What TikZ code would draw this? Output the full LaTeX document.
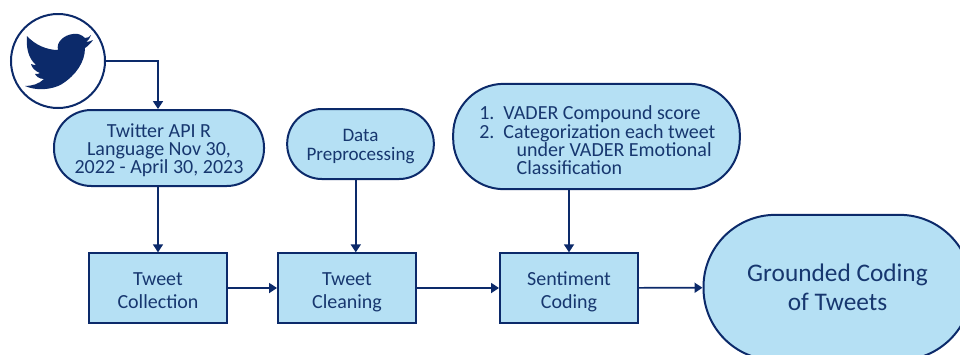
\documentclass[tikz,border=0pt]{standalone}
\usepackage{fontspec}
\setmainfont{Carlito}
\usetikzlibrary{arrows.meta}
\definecolor{navy}{HTML}{0C2A6A}
\definecolor{fillblue}{HTML}{B5E0F4}
\definecolor{txtblue}{HTML}{17376F}
\newcommand\boxtop{\rule{0pt}{16.7pt}}
\newcommand\boxbot{\rule[-3.3pt]{0pt}{1pt}}
\tikzset{
  x=0.75pt,y=-0.75pt,
  base/.style={draw=navy,line width=1.5pt,fill=fillblue,text=txtblue,align=center,inner sep=0pt},
  stadium/.style={base,rounded corners=#1},
  stepbox/.style={base,minimum width=103.5pt,minimum height=52pt,font=\fontsize{15}{17.5}\selectfont},
  conn/.style={draw=navy,line width=1.3pt,-{Triangle[length=6pt,width=7.5pt]}},
}
\begin{document}
\begin{tikzpicture}
\useasboundingbox (0,0) rectangle (960,354);
\clip (0,0) rectangle (960,354);
\node[base,fill=white,circle,minimum size=70.5pt] (logo) at (58,61) {};
\fill[navy] (73,34) .. controls (78,33) and (82,35) .. (85,38)
  .. controls (87,38) and (90,37) .. (91,35)
  .. controls (90,38) and (88,41) .. (86,42)
  .. controls (88,42) and (91,41) .. (93,40)
  .. controls (91,43) and (88,46) .. (85,48)
  .. controls (85,62) and (76,75) .. (62,84)
  .. controls (52,90) and (36,91) .. (25,86)
  .. controls (32,86) and (39,84) .. (44,79)
  .. controls (39,79) and (36,76) .. (35,74)
  .. controls (37,74) and (39,74) .. (40,73)
  .. controls (35,71) and (32,68) .. (31,64)
  .. controls (33,65) and (35,65) .. (36,65)
  .. controls (28,58) and (26,47) .. (27,36)
  .. controls (35,45) and (47,50) .. (58,50)
  .. controls (56,42) and (64,35) .. (73,34) -- cycle;
\node[stadium=28pt,minimum width=157.5pt,minimum height=57pt,font=\fontsize{15}{13.5}\selectfont] (api) at (159,148) {\rule{0pt}{13pt}Twitter API R\\Language Nov 30,\\2022 - April 30, 2023};
\node[stadium=26pt,minimum width=110pt,minimum height=52.5pt,font=\fontsize{14.3}{14.25}\selectfont] (prep) at (360.5,144) {\rule{0pt}{13.6pt}Data\\Preprocessing};
\node[stadium=38pt,minimum width=215pt,minimum height=79pt] (vader) at (596.5,136.5) {};
\node[text=txtblue,anchor=west,align=left,inner sep=0pt,font=\fontsize{15}{13.75}\selectfont] (vtext) at (479,140.3) {1.\ \ VADER Compound score\\2.\ \ Categorization each tweet\\\hspace{28pt}under VADER Emotional\\\hspace{28pt}Classification};
\node[stepbox] (collect) at (158,288) {\boxtop Tweet\\Collection\boxbot};
\node[stepbox] (clean) at (347,288) {\boxtop Tweet\\Cleaning\boxbot};
\node[stepbox] (senti) at (569,288) {\boxtop Sentiment\\Coding\boxbot};
\node[stadium=54pt,minimum width=201pt,minimum height=109pt,font=\fontsize{19}{22}\selectfont] (ground) at (837.5,287.5) {Grounded Coding\\of Tweets};
\coordinate (prepx) at (355.8,200);
\draw[conn] (logo.east |- 0,61) -| (api.north -| collect.north);
\draw[conn] (api.south -| collect.north) -- (collect.north);
\draw[conn] (prep.south -| prepx) -- (clean.north -| prepx);
\draw[conn] (vader.south -| senti.north) -- (senti.north);
\draw[conn] (collect) -- (clean);
\draw[conn] (clean) -- (senti);
\draw[conn] (senti) -- (ground);
\end{tikzpicture}
\end{document}
